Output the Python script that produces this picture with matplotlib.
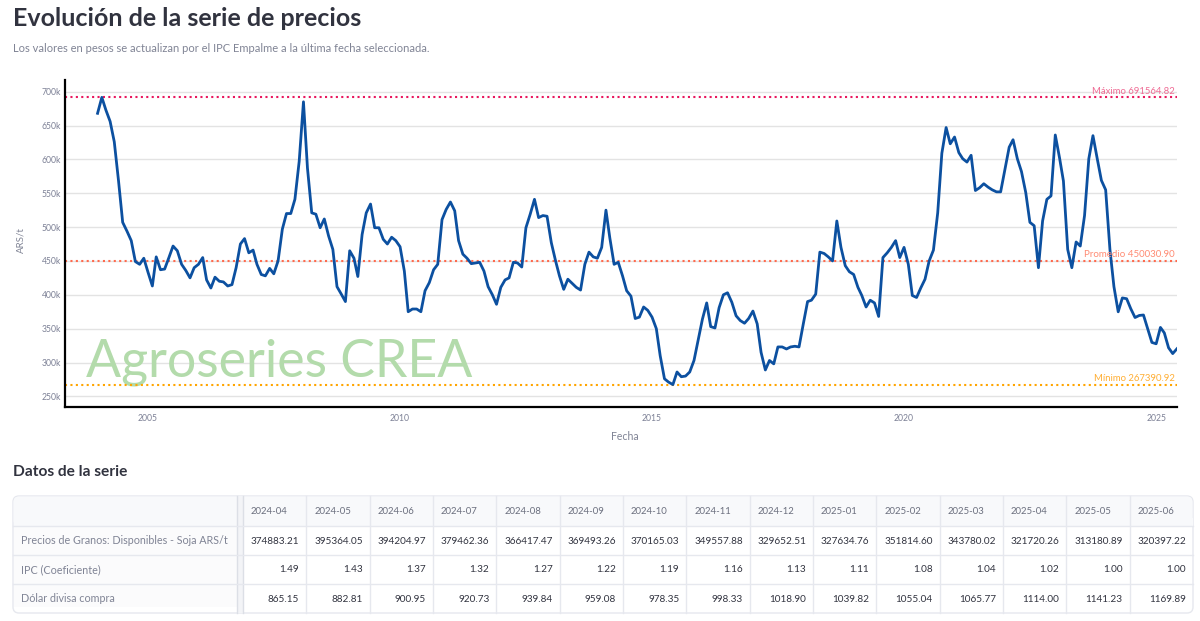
import matplotlib
matplotlib.use('Agg')
import matplotlib.pyplot as plt
import matplotlib.dates as mdates
from matplotlib.ticker import FuncFormatter
from matplotlib.patches import FancyBboxPatch, Rectangle
import numpy as np
import pandas as pd

plt.rcParams['font.family'] = ['Lato', 'DejaVu Sans']

W, H = 1200, 621

# ---------------- data ----------------
# monthly price, thousands of ARS/t, 2004-01 .. 2024-03
precio_hist_k = [
    668, 691.56482, 673, 656, 626, 568, 507, 494, 480, 449, 445, 454,      # 2004
    433, 413, 456, 437, 438, 455, 472, 465, 445, 436, 425, 440,            # 2005
    445, 455, 422, 410, 426, 420, 419, 413, 415, 440, 475, 483,            # 2006
    462, 466, 445, 430, 428, 439, 431, 450, 497, 520, 520, 541,            # 2007
    597, 685, 587, 521, 519, 499, 512, 487, 467, 412, 401, 390,            # 2008
    465, 454, 427, 489, 521, 534, 499, 499, 482, 475, 485, 480,            # 2009
    471, 435, 375, 379, 379, 375, 406, 418, 437, 445, 511, 526,            # 2010
    537, 524, 480, 460, 454, 446, 447, 448, 435, 412, 400, 386,            # 2011
    411, 422, 425, 448, 447, 441, 499, 519, 541, 514, 517, 516,            # 2012
    477, 450, 428, 408, 423, 417, 411, 407, 445, 463, 456, 454,            # 2013
    470, 525, 484, 445, 448, 428, 406, 398, 365, 367, 382, 377,            # 2014
    367, 350, 310, 276, 271, 267.39092, 286, 279, 280, 286, 303, 333,      # 2015
    364, 388, 353, 351, 381, 400, 403, 389, 369, 362, 358, 365,            # 2016
    376, 357, 315, 289, 303, 298, 323, 323, 320, 323, 324, 323,            # 2017
    357, 390, 392, 401, 463, 461, 456, 450, 509, 470, 443, 434,            # 2018
    430, 411, 399, 382, 392, 388, 368, 455, 462, 470, 480, 455,            # 2019
    470, 445, 399, 396, 410, 423, 450, 466, 521, 609, 647, 623,            # 2020
    633, 610, 601, 596, 606, 554, 558, 564, 559, 555, 552, 552,            # 2021
    585, 618, 629, 601, 582, 551, 507, 502, 440, 509, 541, 546,            # 2022
    636, 602, 568, 467, 440, 478, 472, 517, 601, 635, 601, 569,            # 2023
    555, 467, 412,                                                         # 2024-01..03
]

tabla_fechas = ['2024-04', '2024-05', '2024-06', '2024-07', '2024-08', '2024-09',
                '2024-10', '2024-11', '2024-12', '2025-01', '2025-02', '2025-03',
                '2025-04', '2025-05', '2025-06']
tabla_precios = [374883.21, 395364.05, 394204.97, 379462.36, 366417.47, 369493.26,
                 370165.03, 349557.88, 329652.51, 327634.76, 351814.60, 343780.02,
                 321720.26, 313180.89, 320397.22]
tabla_ipc = [1.49, 1.43, 1.37, 1.32, 1.27, 1.22, 1.19, 1.16, 1.13, 1.11, 1.08, 1.04,
             1.02, 1.00, 1.00]
tabla_dolar = [865.15, 882.81, 900.95, 920.73, 939.84, 959.08, 978.35, 998.33,
               1018.90, 1039.82, 1055.04, 1065.77, 1114.00, 1141.23, 1169.89]
fila_nombres = ['Precios de Granos: Disponibles - Soja ARS/t', 'IPC (Coeficiente)',
                'Dólar divisa compra']

MAXIMO = 691564.82
PROMEDIO = 450030.90
MINIMO = 267390.92

y_ticks = [250000, 300000, 350000, 400000, 450000, 500000, 550000, 600000, 650000, 700000]
x_tick_years = [2005, 2010, 2015, 2020, 2025]

precios = list(np.array(precio_hist_k) * 1000.0) + tabla_precios
fechas = pd.date_range('2004-01-01', periods=len(precios), freq='MS')

# ---------------- figure ----------------
fig = plt.figure(figsize=(W / 100, H / 100), dpi=100)
fig.patch.set_facecolor('white')
renderer = fig.canvas.get_renderer()

ov = fig.add_axes([0, 0, 1, 1])
ov.set_xlim(0, W)
ov.set_ylim(H, 0)
ov.axis('off')


def fit_size(txt, width, **kw):
    t = ov.text(0, 0, txt, fontsize=10, **kw)
    w = t.get_window_extent(renderer).width
    t.remove()
    return 10.0 * width / w


DARK = '#31333f'
GRAY = '#808495'
TICK = '#7d8196'

# titles
ov.text(13, 18, 'Evolución de la serie de precios', ha='left', va='center', color=DARK,
        fontweight='bold',
        fontsize=fit_size('Evolución de la serie de precios', 350, fontweight='bold'))
sub = 'Los valores en pesos se actualizan por el IPC Empalme a la última fecha seleccionada.'
ov.text(13, 49, sub, ha='left', va='center', color=GRAY, fontsize=fit_size(sub, 413))

# ---------------- chart ----------------
ax = fig.add_axes([65 / W, 1 - 407 / H, (1177 - 65) / W, (407 - 80) / H])
ax.set_facecolor('white')

x0 = mdates.date2num(pd.Timestamp('2003-05-10'))
x1 = mdates.date2num(pd.Timestamp('2025-06-01'))
ax.set_xlim(x0, x1)
ax.set_ylim(234300, 717200)

ax.set_yticks(y_ticks)
ax.yaxis.set_major_formatter(FuncFormatter(lambda v, p: f'{int(round(v / 1000))}k'))
ax.set_xticks([mdates.date2num(pd.Timestamp(f'{y}-01-01')) for y in x_tick_years])
ax.set_xticklabels([str(y) for y in x_tick_years])

tick_fs = fit_size('700k', 19.3)
ax.tick_params(axis='both', length=0, labelsize=tick_fs, labelcolor=TICK)
ax.tick_params(axis='y', pad=3.0)
ax.tick_params(axis='x', pad=5.0)
ax.grid(axis='y', color='#e3e3e3', linewidth=1.0, zorder=0)
ax.set_axisbelow(True)
for s in ['top', 'right']:
    ax.spines[s].set_visible(False)
for s in ['left', 'bottom']:
    ax.spines[s].set_color('black')
    ax.spines[s].set_linewidth(1.6)

# watermark
wm = 'Agroseries CREA'
ax.text(86, 377, wm, transform=ov.transData, ha='left', va='baseline',
        color='#b3dbab', fontsize=fit_size(wm, 387), zorder=1)

# reference lines
ref = [(MAXIMO, '#e8175d', '#ef6b94', 'Máximo', 83),
       (PROMEDIO, '#ff6a4d', '#ff8b73', 'Promedio', 92),
       (MINIMO, '#ffa500', '#ffae33', 'Mínimo', 81)]
for val, lc, tc, name, wpx in ref:
    ax.axhline(val, color=lc, linestyle=(0, (1, 1.6)), linewidth=1.5, zorder=2)
    lab = f'{name} {val:.2f}'
    ax.annotate(lab, xy=(1.0, val), xycoords=('axes fraction', 'data'),
                xytext=(-2, 1.5), textcoords='offset pixels', ha='right', va='bottom',
                color=tc, fontsize=fit_size(lab, wpx), zorder=4)

# series
ax.plot(fechas, precios, color='#0c50a0', linewidth=2.0, zorder=3,
        solid_joinstyle='round')

# axis labels
ov.text(625, 437, 'Fecha', ha='center', va='center', color=GRAY,
        fontsize=fit_size('Fecha', 27.6))
ov.text(21, 240, 'ARS/t', ha='center', va='center', rotation=90, color=GRAY,
        fontsize=fit_size('ARS/t', 26))

# ---------------- table ----------------
ov.text(13, 472, 'Datos de la serie', ha='left', va='center', color=DARK, fontweight='bold',
        fontsize=fit_size('Datos de la serie', 115, fontweight='bold'))

tx0, tx1, ty0, ty1 = 13, 1193, 496, 613
hdr_bottom = 526
row_edges = [526, 555, 584, 613]
idx_right = 237
data_left = 243
ncol = len(tabla_fechas)
colw = (tx1 - data_left) / ncol
GRID = '#e6e8ee'

border = FancyBboxPatch((tx0, ty0), tx1 - tx0, ty1 - ty0,
                        boxstyle='round,pad=0,rounding_size=6',
                        facecolor='white', edgecolor=GRID, linewidth=1.0, zorder=1)
ov.add_patch(border)
hdr = FancyBboxPatch((tx0 + 0.5, ty0 + 0.5), tx1 - tx0 - 1, hdr_bottom - ty0 - 0.5,
                     boxstyle='round,pad=0,rounding_size=5.5',
                     facecolor='#f8f9fb', edgecolor='none', zorder=1.5)
ov.add_patch(hdr)
ov.add_patch(Rectangle((tx0 + 0.5, hdr_bottom - 8), tx1 - tx0 - 1, 8,
                       facecolor='#f8f9fb', edgecolor='none', zorder=1.6))
ov.add_patch(Rectangle((tx0 + 0.5, hdr_bottom), idx_right - tx0 - 0.5, ty1 - hdr_bottom - 6,
                       facecolor='#fbfbfc', edgecolor='none', zorder=1.5))
# frozen column divider
ov.add_patch(Rectangle((idx_right, ty0 + 0.5), data_left - idx_right, ty1 - ty0 - 1,
                       facecolor='#f3f4f7', edgecolor='none', zorder=1.7))
ov.plot([idx_right, idx_right], [ty0, ty1], color='#dcdfe6', lw=1.0, zorder=2)
ov.plot([data_left, data_left], [ty0, ty1], color='#dcdfe6', lw=1.0, zorder=2)

for yy in row_edges[:-1]:
    ov.plot([tx0, tx1], [yy, yy], color=GRID, lw=1.0, zorder=2)
for i in range(1, ncol):
    xx = data_left + i * colw
    ov.plot([xx, xx], [ty0, ty1], color=GRID, lw=1.0, zorder=2)

hdr_fs = fit_size('2024-04', 37)
val_fs = fit_size('374883.21', 48.7)
lab_fs = fit_size(fila_nombres[0], 208)

for i, f in enumerate(tabla_fechas):
    ov.text(data_left + i * colw + 8, (ty0 + hdr_bottom) / 2 + 0.5, f, ha='left', va='center',
            color='#6b6f7e', fontsize=hdr_fs, zorder=3)

filas = [[f'{v:.2f}' for v in tabla_precios],
         [f'{v:.2f}' for v in tabla_ipc],
         [f'{v:.2f}' for v in tabla_dolar]]
for r, (nombre, vals) in enumerate(zip(fila_nombres, filas)):
    yc = (row_edges[r] + row_edges[r + 1]) / 2 + 0.5
    ov.text(21, yc, nombre, ha='left', va='center', color=GRAY, fontsize=lab_fs, zorder=3)
    for i, s in enumerate(vals):
        ov.text(data_left + (i + 1) * colw - 7, yc, s, ha='right', va='center',
                color=DARK, fontsize=val_fs, zorder=3)

fig.savefig('out.png', dpi=100, facecolor='white')
